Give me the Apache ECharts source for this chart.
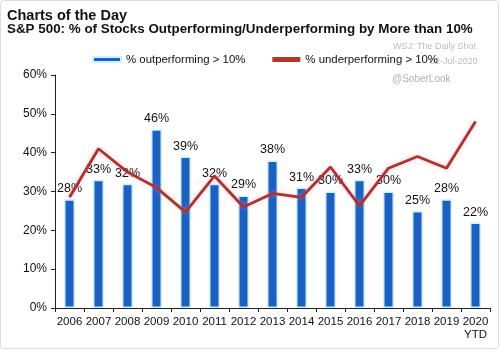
<!DOCTYPE html>
<html lang="en">
<head>
    <meta charset="UTF-8">
    <title>S&P 500 outperforming / underperforming</title>
    <script src="https://cdn.jsdelivr.net/npm/echarts@6/dist/echarts.min.js"></script>
    <style>
        html, body { margin: 0; padding: 0; background: #fff; }
        #chart { width: 500px; height: 350px; }
    </style>
</head>
<body>
<div id="chart"></div>
<script>
    var years = ['2006', '2007', '2008', '2009', '2010', '2011', '2012', '2013',
        '2014', '2015', '2016', '2017', '2018', '2019', '2020\nYTD'];
    var outperforming = [28, 33, 32, 46, 39, 32, 29, 38, 31, 30, 33, 30, 25, 28, 22];
    var underperforming = [28.5, 41, 35, 31, 24.7, 34, 26, 29.5, 28.5, 36.3, 26.3, 36, 39, 36, 48];
    var yTicks = [0, 10, 20, 30, 40, 50, 60];

    var font = 'Liberation Sans, Arial, sans-serif';
    var chart = echarts.init(document.getElementById('chart'));
    var options = {
        animation: false,
        textStyle: { fontFamily: font },
        title: [
            {
                text: 'Charts of the Day',
                left: 7, top: 8, padding: 0,
                textStyle: { fontSize: 14.5, fontWeight: 'bold', color: '#111', fontFamily: font }
            },
            {
                text: 'S&P 500: % of Stocks Outperforming/Underperforming by More than 10%',
                left: 7, top: 23, padding: 0,
                textStyle: { fontSize: 13.4, fontWeight: 'bold', color: '#111', fontFamily: font }
            }
        ],
        graphic: [
            {
                type: 'rect',
                shape: { x: 0.5, y: 0.5, width: 498, height: 348, r: 3 },
                style: { fill: 'none', stroke: '#dcdcdc', lineWidth: 1 },
                z: -1
            },
            {
                type: 'text', left: 393, top: 42,
                style: { text: 'WSJ: The Daily Shot', fill: '#bdbdbd', fontSize: 9, fontFamily: font }
            },
            {
                type: 'text', left: 430, top: 57,
                style: { text: '02-Jul-2020', fill: '#bdbdbd', fontSize: 9, fontFamily: font }
            },
            {
                type: 'text', left: 392, top: 74,
                style: { text: '@SoberLook', fill: '#b0b0b0', fontSize: 10, fontFamily: font }
            }
        ],
        legend: {
            top: 54,
            left: 92,
            itemGap: 27,
            itemWidth: 28,
            itemHeight: 5,
            padding: 0,
            textStyle: { fontSize: 11.4, color: '#111', fontFamily: font },
            data: [
                { name: '% outperforming > 10%', icon: 'rect' },
                { name: '% underperforming > 10%', icon: 'rect', itemStyle: { color: '#b0392b' } }
            ]
        },
        grid: { left: 55, right: 10, top: 75, bottom: 42 },
        xAxis: {
            type: 'category',
            data: years,
            axisLine: { lineStyle: { color: '#222', width: 1 } },
            axisTick: { show: true, inside: false, length: 4, lineStyle: { color: '#222' } },
            axisLabel: {
                color: '#111', fontSize: 11.5, margin: 7, lineHeight: 13,
                interval: 0, fontFamily: font
            }
        },
        yAxis: {
            type: 'value',
            min: 0,
            max: 60,
            interval: 10,
            splitLine: { show: false },
            axisLine: { show: true, lineStyle: { color: '#222', width: 1 } },
            axisTick: { show: true, length: 4, lineStyle: { color: '#222' } },
            axisLabel: {
                color: '#111', fontSize: 12, margin: 8, fontFamily: font,
                formatter: function (v) { return yTicks.indexOf(v) >= 0 ? v + '%' : ''; }
            }
        },
        series: [
            {
                name: '% outperforming > 10%',
                type: 'bar',
                data: outperforming,
                barWidth: '38%',
                itemStyle: {
                    color: '#1e5fc0',
                    borderColor: '#c8f4ff',
                    borderWidth: 1.5
                },
                label: {
                    show: true,
                    position: 'top',
                    distance: 4,
                    color: '#111',
                    fontSize: 12.5,
                    fontFamily: font,
                    formatter: '{c}%'
                }
            },
            {
                name: '% underperforming > 10%',
                type: 'line',
                data: underperforming,
                symbol: 'none',
                lineStyle: {
                    color: '#a8362a',
                    width: 2.8,
                    shadowColor: 'rgba(255, 120, 200, 0.5)',
                    shadowBlur: 4
                },
                itemStyle: { color: '#b0392b' },
                z: 3
            }
        ]
    };
    chart.setOption(options);
</script>
</body>
</html>
